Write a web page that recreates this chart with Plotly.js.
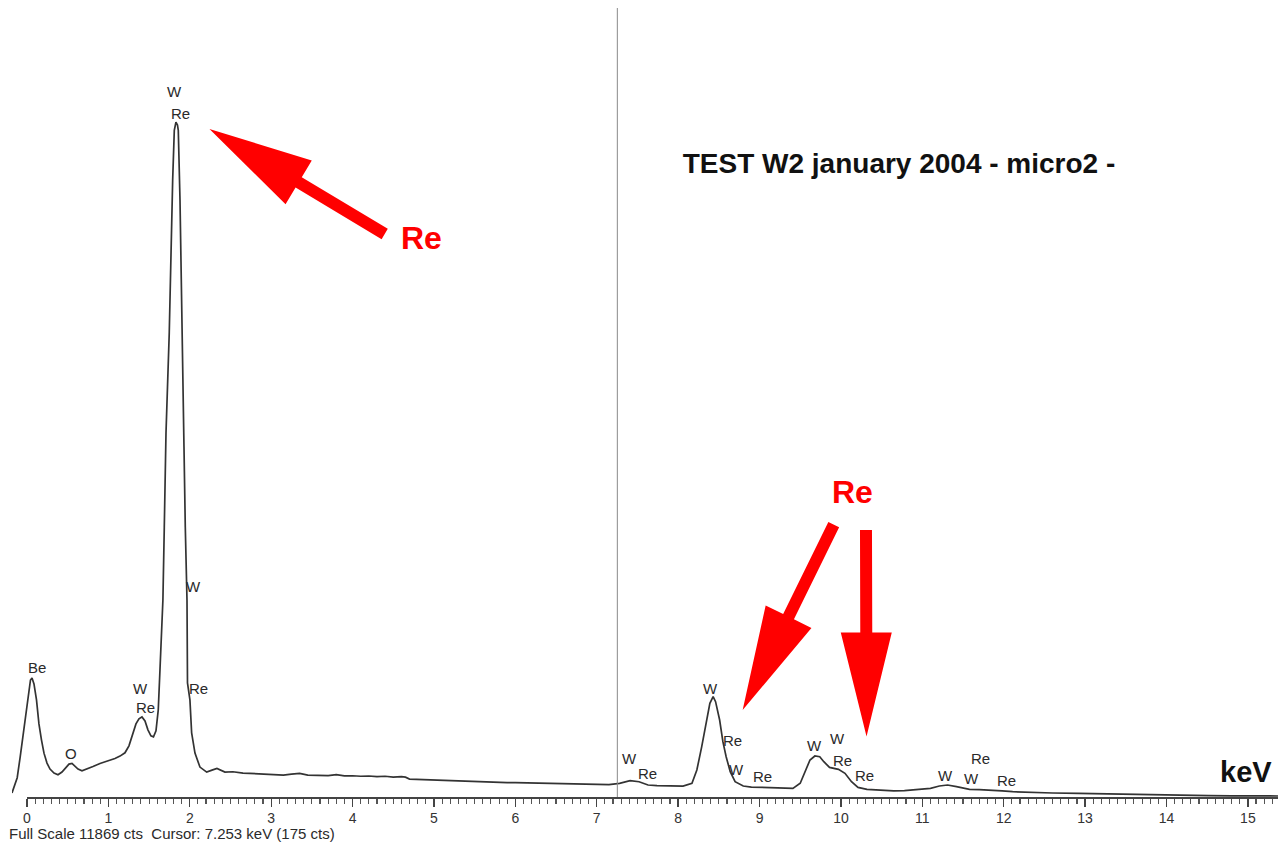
<!DOCTYPE html>
<html>
<head>
<meta charset="utf-8">
<script src="https://cdn.plot.ly/plotly-3.0.1.min.js"></script>
<style>
  html, body { margin: 0; padding: 0; background: #fff; }
  #chart { width: 1281px; height: 848px; }
</style>
</head>
<body>
<div id="chart"></div>
<script>
// ---------- data ----------
const energyKeV = [
  -0.184, -0.150, -0.120, -0.085, -0.050, -0.015, 0.018, 0.043, 0.062, 0.086,
  0.117, 0.147, 0.178, 0.209, 0.246, 0.283, 0.332, 0.381, 0.430, 0.479,
  0.516, 0.553, 0.590, 0.627, 0.676, 0.737, 0.811, 0.897, 0.995, 1.050,
  1.081, 1.143, 1.204, 1.253, 1.302, 1.339, 1.376, 1.413, 1.450, 1.486,
  1.523, 1.554, 1.585, 1.613, 1.634, 1.655, 1.670, 1.687, 1.708, 1.748,
  1.765, 1.790, 1.810, 1.830, 1.849, 1.859, 1.880, 1.892, 1.908, 1.929,
  1.945, 1.966, 1.972, 2.002, 2.023, 2.064, 2.125, 2.208, 2.273, 2.334,
  2.432, 2.530, 2.654, 2.780, 2.900, 3.000, 3.150, 3.250, 3.350, 3.450,
  3.560, 3.700, 3.800, 3.900, 4.000, 4.100, 4.200, 4.300, 4.400, 4.500,
  4.600, 4.650, 4.700, 4.850, 5.000, 5.100, 5.200, 5.300, 5.400, 5.500,
  5.600, 5.700, 5.800, 5.900, 6.000, 6.100, 6.200, 6.300, 6.400, 6.500,
  6.600, 6.700, 6.800, 6.900, 7.000, 7.150, 7.280, 7.410, 7.520, 7.630,
  7.740, 7.840, 7.950, 8.060, 8.170, 8.230, 8.290, 8.340, 8.390, 8.430,
  8.460, 8.510, 8.550, 8.590, 8.640, 8.700, 8.800, 8.900, 9.000, 9.120,
  9.250, 9.410, 9.500, 9.560, 9.620, 9.680, 9.740, 9.790, 9.860, 9.970,
  10.050, 10.130, 10.210, 10.320, 10.420, 10.520, 10.650, 10.780, 10.950, 11.100,
  11.210, 11.310, 11.420, 11.580, 11.700, 11.850, 11.980, 12.110, 12.250, 12.380,
  12.600, 12.920, 13.200, 13.450, 13.700, 13.990, 14.250, 14.520, 14.800, 15.100,
  15.370
];
const counts = [
  60, 170, 290, 590, 930, 1280, 1580, 1760, 1790, 1700,
  1460, 1100, 860, 660, 510, 420, 360, 335, 375, 450,
  495, 505, 465, 420, 395, 420, 460, 505, 540, 560,
  580, 615, 665, 770, 950, 1100, 1175, 1205, 1145, 1010,
  920, 905, 995, 1310, 1910, 2460, 2960, 4060, 5480, 6980,
  8080, 9280, 10030, 10150, 10110, 10030, 8980, 7880, 6570, 5265,
  4060, 2960, 1715, 1460, 965, 660, 450, 375, 405, 430,
  375, 380, 360, 355, 345, 340, 330, 345, 355, 330,
  330, 322, 335, 318, 320, 312, 316, 305, 312, 300,
  305, 298, 270, 262, 256, 250, 245, 240, 235, 238,
  228, 224, 222, 216, 215, 212, 212, 206, 206, 202,
  200, 196, 190, 186, 182, 185, 205, 245, 230, 180,
  170, 165, 160, 165, 206, 406, 757, 1108, 1409, 1509,
  1434, 1158, 832, 606, 381, 230, 165, 150, 145, 140,
  130, 130, 206, 381, 557, 617, 606, 531, 446, 416,
  356, 230, 145, 115, 105, 95, 92, 95, 110, 130,
  165, 180, 155, 115, 110, 105, 92, 80, 72, 65,
  60, 55, 48, 40, 35, 30, 25, 20, 18, 16,
  15
];
const fullScaleCts = 11869;
const cursorKeV = 7.253;
const cursorCts = 175;

// peak identification labels
const peakLabelText = ["W", "Re", "W", "Re", "Be", "O", "W", "Re", "W", "Re",
                       "W", "Re", "W", "Re", "W", "W", "Re", "Re", "W", "Re", "W", "Re"];
const peakLabelKeV  = [1.818, 1.880, 2.050, 2.110, 0.123, 0.540, 1.400, 1.450, 7.400, 7.620,
                       8.400, 8.670, 8.720, 9.040, 9.680, 9.960, 10.020, 10.290, 11.280, 11.710, 11.610, 12.030];
const peakLabelCts  = [10618, 10287, 3173, 1639, 1955, 647, 1639, 1339, 572, 361,
                       1639, 857, 421, 301, 782, 887, 556, 316, 331, 572, 271, 241];

// energy axis ticks
const tickValues = [0, 1, 2, 3, 4, 5, 6, 7, 8, 9, 10, 11, 12, 13, 14, 15];
const tickLabels = ["0", "1", "2", "3", "4", "5", "6", "7", "8", "9", "10", "11", "12", "13", "14", "15"];
const minorStep = 0.1;

// red highlight arrows: tip and tail (keV, cts)
const arrowTipKeV  = [2.242, 8.793, 10.315];
const arrowTipCts  = [10049, 1309, 910];
const arrowTailKeV = [4.395, 9.912, 10.308];
const arrowTailCts = [8469, 4096, 4016];
const redLabelText = ["Re", "Re"];
const redLabelKeV  = [4.841, 10.148];
const redLabelCts  = [8409, 4588];

// ---------- layout geometry ----------
const W = 1281, H = 848;
const M = { l: 12, r: 3, t: 8, b: 51 };
const XR = [-0.184, 15.37];
const YR = [0, fullScaleCts];
const PW = W - M.l - M.r, PH = H - M.t - M.b;

const toPx = (k, c) => ({
  x: M.l + (k - XR[0]) * PW / (XR[1] - XR[0]),
  y: M.t + (YR[1] - c) * PH / (YR[1] - YR[0])
});
const toData = (px, py) => ({
  k: XR[0] + (px - M.l) * (XR[1] - XR[0]) / PW,
  c: YR[1] - (py - M.t) * (YR[1] - YR[0]) / PH
});

const HEAD_LEN = 104, HEAD_HALF = 25.5, SHAFT_HALF = 6;
function arrowPath(tk, tc, lk, lc) {
  const p = toPx(tk, tc), q = toPx(lk, lc);
  const dx = q.x - p.x, dy = q.y - p.y, L = Math.hypot(dx, dy);
  const ux = dx / L, uy = dy / L, nx = -uy, ny = ux;
  const bx = p.x + ux * HEAD_LEN, by = p.y + uy * HEAD_LEN;
  const pts = [
    [p.x, p.y],
    [bx + nx * HEAD_HALF, by + ny * HEAD_HALF],
    [bx + nx * SHAFT_HALF, by + ny * SHAFT_HALF],
    [q.x + nx * SHAFT_HALF, q.y + ny * SHAFT_HALF],
    [q.x - nx * SHAFT_HALF, q.y - ny * SHAFT_HALF],
    [bx - nx * SHAFT_HALF, by - ny * SHAFT_HALF],
    [bx - nx * HEAD_HALF, by - ny * HEAD_HALF]
  ].map(([x, y]) => toData(x, y));
  return "M" + pts.map(d => d.k.toFixed(4) + "," + d.c.toFixed(2)).join(" L") + " Z";
}

const shapes = [
  { type: "line", xref: "x", yref: "paper", x0: cursorKeV, x1: cursorKeV, y0: 0, y1: 1,
    line: { color: "#8a8a8a", width: 1 } }
];
for (let i = 0; i < arrowTipKeV.length; i++) {
  shapes.push({
    type: "path", xref: "x", yref: "y",
    path: arrowPath(arrowTipKeV[i], arrowTipCts[i], arrowTailKeV[i], arrowTailCts[i]),
    fillcolor: "#ff0000", line: { width: 0 }, layer: "above"
  });
}

const FONT = "Liberation Sans, Arial, sans-serif";
const labelFont = { family: FONT, size: 15, color: "#2a2a2a" };
const annotations = [];
for (let i = 0; i < peakLabelText.length; i++) {
  annotations.push({
    x: peakLabelKeV[i], y: peakLabelCts[i], xref: "x", yref: "y",
    text: peakLabelText[i], showarrow: false, font: labelFont,
    xanchor: "center", yanchor: "middle"
  });
}
for (let i = 0; i < redLabelText.length; i++) {
  annotations.push({
    x: redLabelKeV[i], y: redLabelCts[i], xref: "x", yref: "y",
    text: "<b>" + redLabelText[i] + "</b>", showarrow: false,
    font: { family: FONT, size: 32, color: "#ff0000" },
    xanchor: "center", yanchor: "middle"
  });
}
annotations.push({
  x: 14.977, y: 376, xref: "x", yref: "y", text: "<b>keV</b>", showarrow: false,
  font: { family: FONT, size: 29, color: "#111" },
  xanchor: "center", yanchor: "middle"
});
annotations.push({
  x: (7 - M.l) / PW, y: (M.t + PH - 833) / PH, xref: "paper", yref: "paper",
  text: "Full Scale " + fullScaleCts + " cts  Cursor: " + cursorKeV.toFixed(3) + " keV (" + cursorCts + " cts)",
  showarrow: false, xanchor: "left", yanchor: "middle",
  font: { family: FONT, size: 15, color: "#2a2a2a" }
});

const spectrum = {
  x: energyKeV, y: counts, type: "scatter", mode: "lines",
  line: { color: "#333333", width: 1.7 }, hoverinfo: "skip", showlegend: false
};
// empty trace so that the second x axis (the energy scale from 0 keV) is drawn
const scaleHolder = {
  x: [], y: [], xaxis: "x2", yaxis: "y", type: "scatter", mode: "lines",
  hoverinfo: "skip", showlegend: false
};

const zeroFrac = (0 - XR[0]) / (XR[1] - XR[0]);

const layout = {
  width: W, height: H,
  margin: M,
  paper_bgcolor: "#ffffff", plot_bgcolor: "rgba(0,0,0,0)",
  title: {
    text: "<b>TEST W2 january 2004 - micro2 -</b>",
    xref: "container", yref: "container", x: 899 / W, y: 1 - 163 / H,
    xanchor: "center", yanchor: "middle",
    font: { family: FONT, size: 28, color: "#111" }
  },
  xaxis: {
    range: XR, visible: false, fixedrange: true
  },
  xaxis2: {
    domain: [zeroFrac, 1], anchor: "y", range: [0, XR[1]],
    showgrid: false, zeroline: false,
    showline: true, linecolor: "#444", linewidth: 1.6,
    tickmode: "array", tickvals: tickValues, ticktext: tickLabels,
    ticks: "outside", ticklen: 8, tickwidth: 1.3, tickcolor: "#444",
    tickfont: { family: FONT, size: 14, color: "#333" },
    minor: { dtick: minorStep, tick0: 0, ticks: "outside", ticklen: 5, tickwidth: 1.1, tickcolor: "#555", showgrid: false },
    fixedrange: true
  },
  yaxis: { range: YR, visible: false, fixedrange: true },
  shapes: shapes,
  annotations: annotations,
  showlegend: false
};

Plotly.newPlot("chart", [spectrum, scaleHolder], layout, { staticPlot: true, displayModeBar: false });
</script>
</body>
</html>
